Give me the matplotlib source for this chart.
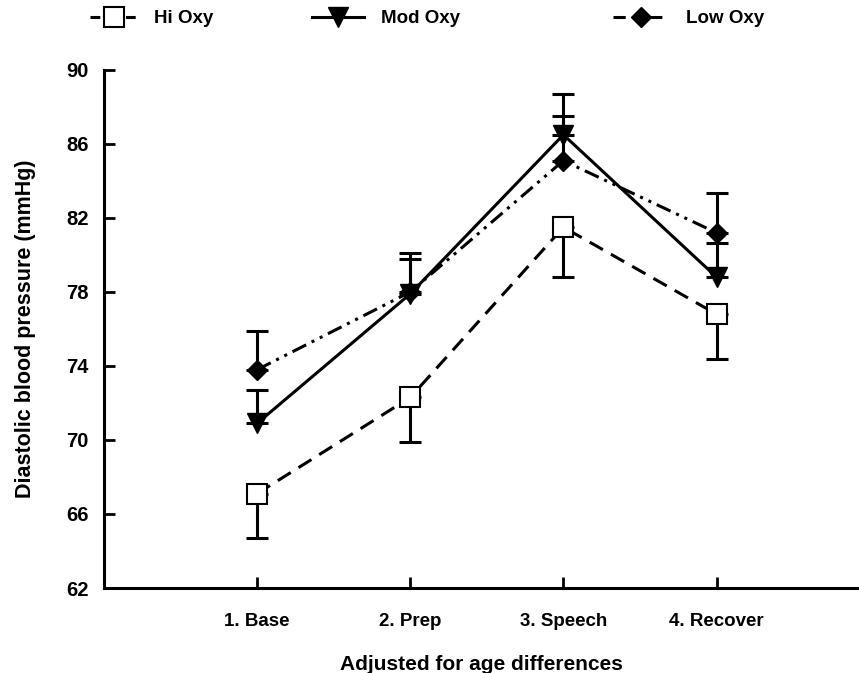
import matplotlib
matplotlib.use("Agg")
import matplotlib.pyplot as plt
from matplotlib.lines import Line2D

plt.rcParams['font.family'] = ['Liberation Sans', 'DejaVu Sans']
plt.rcParams['font.weight'] = 'bold'

# data
conditions = ["1. Base", "2. Prep", "3. Speech", "4. Recover"]
x = [1, 2, 3, 4]

hi_oxy = [67.1, 72.3, 81.5, 76.8]
hi_err = [2.4, 2.4, 2.7, 2.4]      # drawn below only

mod_oxy = [70.9, 77.9, 86.5, 78.8]
mod_err = [1.8, 2.2, 2.2, 1.85]    # drawn above only

low_oxy = [73.8, 78.0, 85.1, 81.2]
low_err = [2.1, 1.8, 2.4, 2.15]    # drawn above only

yticks = [62, 66, 70, 74, 78, 82, 86, 90]

fig = plt.figure(figsize=(8.59, 6.73), dpi=100, facecolor="w")
ax = fig.add_axes([0.121, 0.1263, 0.879, 0.7697])

lw = 2.2
zeros = [0] * 4

# error bars (one-sided)
ax.errorbar(x, hi_oxy, yerr=[hi_err, zeros], fmt='none', ecolor='k',
            elinewidth=2.2, capsize=8, capthick=2.2, zorder=2)
ax.errorbar(x, mod_oxy, yerr=[zeros, mod_err], fmt='none', ecolor='k',
            elinewidth=2.2, capsize=8, capthick=2.2, zorder=2)
ax.errorbar(x, low_oxy, yerr=[zeros, low_err], fmt='none', ecolor='k',
            elinewidth=2.2, capsize=8, capthick=2.2, zorder=2)

ax.plot(x, hi_oxy, color='k', lw=lw, ls=(0, (5, 3)), marker='s',
        ms=15, mfc='white', mec='k', mew=1.5, zorder=4)
ax.plot(x, mod_oxy, color='k', lw=lw, ls='-', marker='v',
        ms=14, mfc='k', mec='k', zorder=4)
ax.plot(x, low_oxy, color='k', lw=lw, ls=(0, (5, 2, 1, 2, 1, 2)),
        marker='D', ms=10, mfc='k', mec='k', zorder=3)

ax.set_xlim(0, 4.93)
ax.set_ylim(62, 90)
ax.set_xticks(x)
ax.set_xticklabels(conditions)
ax.set_yticks(yticks)
ax.spines['top'].set_visible(False)
ax.spines['right'].set_visible(False)
ax.spines['left'].set_linewidth(2.2)
ax.spines['bottom'].set_linewidth(2.2)
ax.tick_params(axis='both', direction='in', width=2, length=8)
ax.tick_params(axis='x', pad=18, labelsize=13.5)
ax.tick_params(axis='y', pad=11, labelsize=14.5)

ax.set_xlabel("Adjusted for age differences", fontsize=15,
              fontweight='bold', labelpad=18)
ax.set_ylabel("Diastolic blood pressure (mmHg)", fontsize=15.5,
              fontweight='bold', labelpad=22)

# legend across the top, one entry each (proxy handles: "-marker-")
h_hi = Line2D([], [], color='k', lw=lw, ls=(0, (3.2, 8.4)), marker='s',
              ms=15, mfc='white', mec='k', mew=1.5)
h_mod = Line2D([], [], color='k', lw=lw, ls='-', marker='v',
               ms=14, mfc='k', mec='k')
h_low = Line2D([], [], color='k', lw=lw, ls=(0, (4.0, 8.0)), marker='D',
               ms=10, mfc='k', mec='k')
for handle, label, xpos, hl in [(h_hi, 'Hi Oxy', 0.105, 2.5),
                                (h_mod, 'Mod Oxy', 0.363, 2.8),
                                (h_low, 'Low Oxy', 0.714, 3.0)]:
    fig.legend(handles=[handle], labels=[label], loc='center left',
               bbox_to_anchor=(xpos, 0.972), frameon=False,
               borderpad=0, borderaxespad=0, handlelength=hl,
               handletextpad=0.9, prop={'size': 13.5, 'weight': 'bold'})

plt.savefig("out.png", dpi=100, facecolor="w")
